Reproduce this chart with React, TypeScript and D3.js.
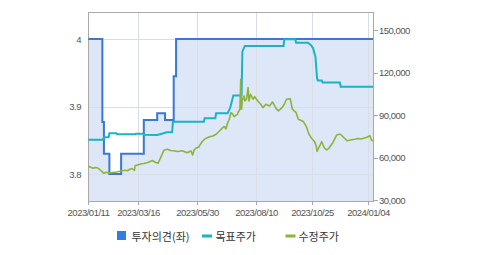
import React from 'react';
import * as d3 from 'd3';

const W = 479;
const H = 255;
const PLOT = { left: 88, right: 373, top: 12, bottom: 201 };

// x-axis tick dates & labels
const tickDates = ['2023-01-11', '2023-03-16', '2023-05-30', '2023-08-10', '2023-10-25', '2024-01-04'];
const tickLabels = ['2023/01/11', '2023/03/16', '2023/05/30', '2023/08/10', '2023/10/25', '2024/01/04'];
const endDate = '2024-01-10';
// pixel stops for the (trading-day-like) x axis breakpoints
const xStops = [88.3, 138.3, 197.3, 256.3, 312.3, 368.3, 373];

const leftTicks = [3.8, 3.9, 4];
const rightTicks = [30000, 60000, 90000, 120000, 150000];

// 투자의견 (opinion, left axis)
const opinionDates = ['2023-01-11', '2023-01-29', '2023-01-31', '2023-02-07', '2023-02-22', '2023-03-23', '2023-04-09', '2023-04-19', '2023-04-30', '2023-05-03', '2024-01-10'];
const opinionValues = [4.0, 3.877, 3.83, 3.8, 3.83, 3.88, 3.89, 3.88, 3.945, 4.0, 4.0];

// 목표주가 (target price, right axis)
const targetDates = ['2023-01-11', '2023-01-30', '2023-01-31', '2023-02-06', '2023-02-07', '2023-02-16', '2023-02-17', '2023-03-12', '2023-03-13', '2023-03-22', '2023-03-23', '2023-04-09', '2023-04-16', '2023-04-21', '2023-04-28', '2023-04-29', '2023-06-07', '2023-06-08', '2023-06-21', '2023-06-22', '2023-07-06', '2023-07-09', '2023-07-13', '2023-07-23', '2023-07-24', '2023-07-27', '2023-09-16', '2023-09-17', '2023-10-02', '2023-10-03', '2023-10-19', '2023-10-23', '2023-10-26', '2023-10-29', '2023-10-31', '2023-11-01', '2023-11-06', '2023-11-07', '2023-11-29', '2023-11-30', '2024-01-10'];
const targetValues = [72600, 72600, 74300, 74300, 77200, 77200, 76500, 76500, 76900, 76900, 76200, 76000, 77000, 77900, 77900, 85400, 85400, 87800, 87800, 91300, 91300, 94850, 103800, 103800, 134900, 138900, 138900, 143600, 143600, 141200, 141200, 139600, 137300, 131300, 116100, 114400, 114400, 113000, 113000, 110100, 110100];

// 수정주가 (adjusted price, right axis)
const priceDates = [
  '2023-01-11', '2023-01-14', '2023-01-17', '2023-01-20', '2023-01-23', '2023-01-27', '2023-01-30', '2023-01-31',
  '2023-02-03', '2023-02-06', '2023-02-09', '2023-02-13', '2023-02-16', '2023-02-19', '2023-02-23', '2023-02-27',
  '2023-03-02', '2023-03-05', '2023-03-08', '2023-03-11', '2023-03-12', '2023-03-14', '2023-03-19', '2023-03-23',
  '2023-03-28', '2023-03-31', '2023-04-03', '2023-04-06', '2023-04-10', '2023-04-12', '2023-04-14', '2023-04-16',
  '2023-04-18', '2023-04-22', '2023-04-26', '2023-04-30', '2023-05-05', '2023-05-11', '2023-05-17', '2023-05-22',
  '2023-05-24', '2023-05-26', '2023-05-28', '2023-06-01', '2023-06-03', '2023-06-05', '2023-06-09', '2023-06-14',
  '2023-06-18', '2023-06-22', '2023-06-26', '2023-06-30', '2023-07-02', '2023-07-04', '2023-07-06', '2023-07-08',
  '2023-07-10', '2023-07-12', '2023-07-14', '2023-07-16', '2023-07-18', '2023-07-19', '2023-07-21', '2023-07-22',
  '2023-07-23', '2023-07-24', '2023-07-26', '2023-07-27', '2023-07-29', '2023-07-31', '2023-08-01', '2023-08-03',
  '2023-08-06', '2023-08-08', '2023-08-12', '2023-08-16', '2023-08-19', '2023-08-23', '2023-08-28', '2023-09-01',
  '2023-09-06', '2023-09-09', '2023-09-14', '2023-09-17', '2023-09-20', '2023-09-25', '2023-09-28', '2023-10-03',
  '2023-10-06', '2023-10-10', '2023-10-13', '2023-10-17', '2023-10-20', '2023-10-22', '2023-10-24', '2023-10-28',
  '2023-10-30', '2023-10-31', '2023-11-02', '2023-11-04', '2023-11-06', '2023-11-09', '2023-11-12', '2023-11-15',
  '2023-11-20', '2023-11-25', '2023-11-29', '2023-12-03', '2023-12-08', '2023-12-14', '2023-12-18', '2023-12-22',
  '2023-12-26', '2024-01-02', '2024-01-06', '2024-01-08', '2024-01-10',
];
const priceValues = [
  53830, 53130, 52420, 52990, 52630, 50860, 49310, 48890,
  49590, 49170, 49310, 49590, 49800, 50160, 50720, 51080,
  50650, 51710, 52280, 50860, 54400, 54540, 55460, 55810,
  56520, 57230, 57940, 56880, 55960, 58290, 60620, 63240,
  65360, 65860, 65010, 64870, 64300, 64870, 63450, 64650,
  61820, 65360, 66560, 67480, 69600, 71370, 73490, 74760,
  75260, 76460, 78800, 81130, 81980, 80210, 84450, 87070,
  91730, 90820, 88910, 89760, 90600, 92230, 94140, 115350,
  94140, 100720, 103540, 100010, 101210, 109410, 100010, 104750,
  101210, 103050, 100010, 97670, 95270, 97670, 96470, 99300,
  94560, 92940, 95270, 97670, 101210, 101630, 94140, 91730,
  87070, 86220, 85370, 81840, 77170, 75260, 73630, 71230,
  68190, 64300, 66770, 68900, 71230, 67130, 65360, 66560,
  70520, 75970, 76670, 74760, 71860, 72570, 73000, 73490,
  73140, 74410, 75470, 72430, 71720,
];

const legendLabels = ['투자의견(좌)', '목표주가', '수정주가'];

const COLORS = {
  opinion: '#3a78d2',
  opinionLegend: '#2f7fe3',
  fill: '#dde7f7',
  target: '#19b3c9',
  price: '#8db33c',
  grid: '#d8dde6',
  border: '#a9a9a9',
  text: '#555',
};

const parse = d3.timeParse('%Y-%m-%d');

export default function App() {
  const x = d3
    .scaleTime()
    .domain([...tickDates, endDate].map((d) => parse(d) as Date))
    .range(xStops);
  const yL = d3.scaleLinear().domain([3.76, 4.04]).range([PLOT.bottom, PLOT.top]);
  const yR = d3.scaleLinear().domain([29300, 162900]).range([PLOT.bottom, PLOT.top]);

  const opinion = opinionDates.map((d, i) => ({ d: parse(d) as Date, v: opinionValues[i] }));
  const target = targetDates.map((d, i) => ({ d: parse(d) as Date, v: targetValues[i] }));
  const price = priceDates.map((d, i) => ({ d: parse(d) as Date, v: priceValues[i] }));

  const opLine = d3
    .line<{ d: Date; v: number }>()
    .x((p) => x(p.d))
    .y((p) => yL(p.v))
    .curve(d3.curveStepAfter);
  const opArea = d3
    .area<{ d: Date; v: number }>()
    .x((p) => x(p.d))
    .y0(PLOT.bottom)
    .y1((p) => yL(p.v))
    .curve(d3.curveStepAfter);
  const rLine = d3
    .line<{ d: Date; v: number }>()
    .x((p) => x(p.d))
    .y((p) => yR(p.v));

  const fmt = d3.format(',');
  const axisFont = { fontFamily: '"Liberation Sans", Arial, sans-serif', fontSize: 9.5, letterSpacing: -0.5, fill: COLORS.text };
  const legendFont = { fontFamily: '"Noto Sans CJK KR", sans-serif', fontSize: 11, fill: '#333' };

  return (
    <div style={{ position: 'fixed', left: 0, top: 0 }}>
      <svg width={W} height={H} style={{ display: 'block', background: '#fff' }}>
        <path d={opArea(opinion) || ''} fill={COLORS.fill} />
        {/* grid */}
        {leftTicks.map((t) => (
          <line key={'gh' + t} x1={PLOT.left} x2={PLOT.right} y1={Math.round(yL(t)) + 0.5} y2={Math.round(yL(t)) + 0.5} stroke={COLORS.grid} />
        ))}
        {tickDates.slice(1).map((t) => {
          const px = Math.round(x(parse(t) as Date)) + 0.5;
          return <line key={'gv' + t} x1={px} x2={px} y1={PLOT.top} y2={PLOT.bottom} stroke={COLORS.grid} />;
        })}
        {/* frame */}
        <rect x={PLOT.left + 0.5} y={PLOT.top + 0.5} width={PLOT.right - PLOT.left} height={PLOT.bottom - PLOT.top} fill="none" stroke={COLORS.border} />
        {/* series */}
        <path d={opLine(opinion) || ''} fill="none" stroke={COLORS.opinion} strokeWidth={2} />
        <path d={rLine(target) || ''} fill="none" stroke={COLORS.target} strokeWidth={2} />
        <path d={rLine(price) || ''} fill="none" stroke={COLORS.price} strokeWidth={1.6} strokeLinejoin="round" />
        {/* left axis labels */}
        {leftTicks.map((t) => (
          <text key={'l' + t} x={81} y={yL(t)} textAnchor="end" dominantBaseline="central" {...axisFont}>
            {d3.format('~g')(t)}
          </text>
        ))}
        {/* right axis */}
        {rightTicks.map((t) => (
          <g key={'r' + t}>
            <line x1={PLOT.right} x2={PLOT.right + 5} y1={Math.round(yR(t)) + 0.5} y2={Math.round(yR(t)) + 0.5} stroke={COLORS.border} />
            <text x={PLOT.right + 6} y={yR(t)} dominantBaseline="central" {...axisFont}>
              {fmt(t)}
            </text>
          </g>
        ))}
        {/* x axis */}
        {tickDates.map((t, i) => {
          const px = Math.round(x(parse(t) as Date)) + 0.5;
          return (
            <g key={'x' + t}>
              <line x1={px} x2={px} y1={PLOT.bottom} y2={PLOT.bottom + 4} stroke={COLORS.border} />
              <text x={px} y={212} textAnchor="middle" dominantBaseline="central" {...axisFont}>
                {tickLabels[i]}
              </text>
            </g>
          );
        })}
        {/* legend */}
        <rect x={117} y={231} width={9} height={9} fill={COLORS.opinionLegend} />
        <text x={131.5} y={235.5} dominantBaseline="central" {...legendFont}>{legendLabels[0]}</text>
        <rect x={202} y={234.5} width={10} height={3} fill={COLORS.target} />
        <text x={215.5} y={235.5} dominantBaseline="central" {...legendFont}>{legendLabels[1]}</text>
        <rect x={285.5} y={234.5} width={10} height={3} fill={COLORS.price} />
        <text x={298.5} y={235.5} dominantBaseline="central" {...legendFont}>{legendLabels[2]}</text>
      </svg>
    </div>
  );
}
